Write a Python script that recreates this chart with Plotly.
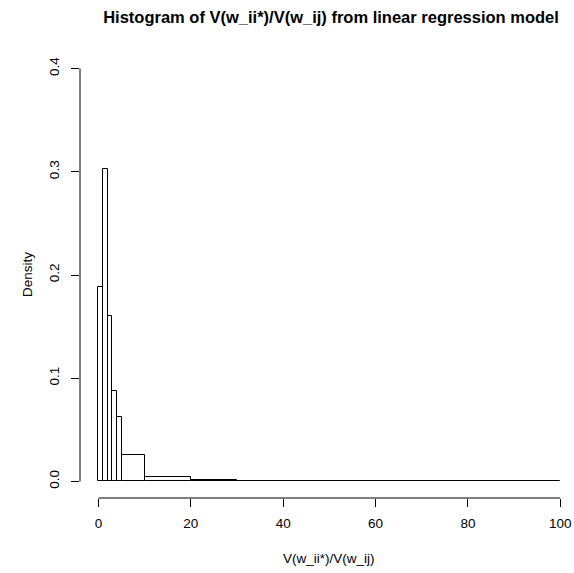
import plotly.graph_objects as go

# Histogram bin edges and density per bin
bin_edges = [0, 1, 2, 3, 4, 5, 10, 20, 30, 40, 50, 100]
density = [0.188, 0.303, 0.160, 0.088, 0.062, 0.026, 0.0039, 0.0013, 0.0003, 0.0005, 0.0001]

x_ticks = [0, 20, 40, 60, 80, 100]
y_ticks = [0.0, 0.1, 0.2, 0.3, 0.4]
y_tick_text = ["0.0", "0.1", "0.2", "0.3", "0.4"]

mids = [(a + b) / 2 for a, b in zip(bin_edges[:-1], bin_edges[1:])]
widths = [b - a for a, b in zip(bin_edges[:-1], bin_edges[1:])]

FONT = "Liberation Sans, Arial, Helvetica, sans-serif"
LEFT, TOP, BOTTOM = 80, 52, 75

fig = go.Figure()
fig.add_trace(go.Bar(
    x=mids, y=density, width=widths,
    marker=dict(color="white", line=dict(color="black", width=1)),
    hoverinfo="skip", showlegend=False,
))

# R-style axis lines spanning only the tick range
fig.add_shape(type="line", xref="x", yref="paper",
              x0=x_ticks[0], x1=x_ticks[-1], y0=0, y1=0,
              line=dict(color="black", width=1))
fig.add_shape(type="line", xref="paper", yref="y",
              x0=0, x1=0, y0=y_ticks[0], y1=y_ticks[-1],
              line=dict(color="black", width=1))

fig.update_layout(
    width=574, height=573,
    margin=dict(l=LEFT, r=0, t=TOP, b=BOTTOM),
    plot_bgcolor="white", paper_bgcolor="white",
    font=dict(family=FONT, size=13.5, color="black"),
    bargap=0,
    title=dict(text="<b>Histogram of V(w_ii*)/V(w_ij) from linear regression model</b>",
               x=331 / 574, xanchor="center", y=1 - 17.5 / 573, yanchor="middle",
               font=dict(size=16.5, family=FONT)),
    xaxis=dict(range=[-4, 102.97], tickvals=x_ticks, ticks="outside", ticklen=8,
               tickcolor="black", showline=False, showgrid=False, zeroline=False,
               automargin=False, ticklabelstandoff=5),
    yaxis=dict(range=[-0.016, 0.416], tickvals=y_ticks, ticktext=y_tick_text,
               ticks="outside", ticklen=8, tickangle=-90, tickcolor="black",
               showline=False, showgrid=False, zeroline=False, automargin=False,
               ticklabelstandoff=7),
    annotations=[
        dict(text="V(w_ii*)/V(w_ij)", xref="x", yref="paper", x=50, y=0,
             yanchor="middle", yshift=-60, showarrow=False, font=dict(size=13.5)),
        dict(text="Density", xref="paper", yref="y", x=0, y=0.2, xanchor="center",
             xshift=-53, textangle=-90, showarrow=False, font=dict(size=13.5)),
    ],
)

fig.write_html("out.html")
